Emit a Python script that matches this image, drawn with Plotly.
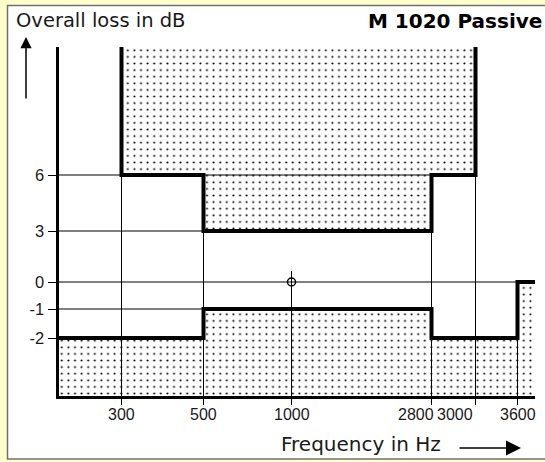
import numpy as np
import plotly.graph_objects as go

# tick labels
freq_ticks = [300, 500, 1000, 2800, 3000, 3600]   # Hz
loss_ticks = [-2, -1, 0, 3, 6]                    # dB

# upper limit of the overall loss (open above)
upper_edges = [300, 500, 2800, 3000]
upper_levels = [6, 3, 6]

# lower limit of the overall loss (runs from the y axis to the right end)
lower_edges = [500, 2800, 3600]
lower_levels = [-2, -1, -2, 0]

# reference point at 1000 Hz
ref_freq = 1000
ref_loss = 0

# level at which each vertical grid line meets a limit line
vgrid_top = [6, 3, 0, 3, 6, -2]
# frequency where each horizontal grid line ends (None = right end)
hgrid_end = [300, 500, None, 500, 3000]

# ---------------------------------------------------------------- layout
W, H = 545, 462
AX_L, AX_R, AX_T, AX_B = 58.5, 535, 47, 396   # plot area in pixels
# the chart is schematic: ticks are not evenly spaced, so each tick gets a column/row
x_slots = [63, 145, 233, 373, 417, 459]
y_slots = [58, 87, 114, 165, 221]
X_MAX = AX_R - AX_L
Y_MAX = AX_B - AX_T

FONT = "Liberation Sans, Arial, sans-serif"
TFONT = "DejaVu Sans, Verdana, sans-serif"
INK = "#1a1a1a"


def fx(f):
    return float(np.interp(f, freq_ticks, x_slots))


def fy(db):
    return float(np.interp(db, loss_ticks, y_slots))


def px(x):
    return x / W


def py(y):
    return 1 - y / H


# upper limit path
ux = [fx(upper_edges[0])]
uy = [Y_MAX]
for i, lev in enumerate(upper_levels):
    ux += [fx(upper_edges[i]), fx(upper_edges[i + 1])]
    uy += [fy(lev), fy(lev)]
ux.append(fx(upper_edges[-1]))
uy.append(Y_MAX)

# lower limit path
edges = [0] + [fx(f) for f in lower_edges] + [X_MAX]
lx, ly = [], []
for i, lev in enumerate(lower_levels):
    lx += [edges[i], edges[i + 1]]
    ly += [fy(lev), fy(lev)]

dots = dict(shape=".", size=6.6, solidity=0.08, fgcolor="black", bgcolor="white", fillmode="replace")

fig = go.Figure()

fig.add_trace(go.Scatter(
    x=ux + [ux[0]], y=uy + [uy[0]], fill="toself", mode="none",
    fillpattern=dots, fillcolor="white", hoverinfo="skip",
))
fig.add_trace(go.Scatter(
    x=lx + [X_MAX, 0, lx[0]], y=ly + [0, 0, ly[0]], fill="toself", mode="none",
    fillpattern=dots, fillcolor="white", hoverinfo="skip",
))

# thin grid lines
gx, gy = [], []
for f, top in zip(freq_ticks, vgrid_top):
    t = fy(top) + (11 if f == ref_freq else 0)
    gx += [fx(f), fx(f), None]
    gy += [0, t, None]
for db, end in zip(loss_ticks, hgrid_end):
    gx += [0, X_MAX if end is None else fx(end), None]
    gy += [fy(db), fy(db), None]
fig.add_trace(go.Scatter(x=gx, y=gy, mode="lines", line=dict(color="black", width=1),
                         hoverinfo="skip"))

# limit lines
for xs, ys in [(ux, uy), (lx, ly)]:
    fig.add_trace(go.Scatter(x=xs, y=ys, mode="lines", line=dict(color="black", width=4),
                             hoverinfo="skip"))

fig.add_trace(go.Scatter(
    x=[fx(ref_freq)], y=[fy(ref_loss)], mode="markers",
    marker=dict(symbol="circle-open", size=8, color="black", line=dict(width=1.5)),
    hoverinfo="skip",
))

# frequency labels (2800 and 3000 sit left of their ticks in the original)
label_shift = {2800: -16, 3000: -21}
annotations = []
for f, xs in zip(freq_ticks, x_slots):
    annotations.append(dict(
        x=xs + label_shift.get(f, 0), y=py(404), xref="x", yref="paper",
        text=str(f), showarrow=False, xanchor="center", yanchor="top",
        font=dict(family=FONT, size=16, color=INK),
    ))

annotations += [
    dict(x=px(14), y=py(7), xref="paper", yref="paper", text="Overall loss in dB",
         showarrow=False, xanchor="left", yanchor="top",
         font=dict(family=TFONT, size=19.5, color=INK)),
    dict(x=px(544), y=py(7), xref="paper", yref="paper", text="<b>M 1020 Passive</b>",
         showarrow=False, xanchor="right", yanchor="top",
         font=dict(family=TFONT, size=20, color="black")),
    dict(x=px(279), y=py(430), xref="paper", yref="paper", text="Frequency in Hz",
         showarrow=False, xanchor="left", yanchor="top",
         font=dict(family=TFONT, size=20, color=INK)),
    # arrows
    dict(x=px(26), y=py(37), xref="paper", yref="paper", text="", showarrow=True,
         ax=0, ay=63, arrowhead=2, arrowsize=1.5, arrowwidth=1.5, arrowcolor="black"),
    dict(x=px(521), y=py(448), xref="paper", yref="paper", text="", showarrow=True,
         ax=-63, ay=0, arrowhead=2, arrowsize=2, arrowwidth=1.5, arrowcolor="black"),
]

fig.update_layout(
    width=W, height=H, autosize=False,
    margin=dict(l=0, r=0, t=0, b=0),
    paper_bgcolor="#ffffcc", plot_bgcolor="white",
    showlegend=False,
    annotations=annotations,
    shapes=[dict(type="rect", xref="paper", yref="paper", layer="below",
                 x0=px(7.5), x1=px(W + 5), y0=py(459), y1=py(5.5),
                 fillcolor="white", line=dict(color="#707070", width=1.5))],
    xaxis=dict(
        domain=[px(AX_L), px(AX_R)], range=[0, X_MAX],
        showline=True, linewidth=3, linecolor="black", mirror=False,
        ticks="outside", tickvals=x_slots, ticklen=6, tickwidth=1, tickcolor="black",
        showticklabels=False, showgrid=False, zeroline=False, fixedrange=True,
    ),
    yaxis=dict(
        domain=[py(AX_B), py(AX_T)], range=[0, Y_MAX],
        showline=True, linewidth=3, linecolor="black",
        ticks="outside", tickvals=y_slots, ticktext=[str(v) for v in loss_ticks],
        ticklen=8, tickwidth=1, tickcolor="black",
        tickfont=dict(family=FONT, size=16.5, color=INK),
        showgrid=False, zeroline=False, fixedrange=True,
    ),
)

fig.write_html("out.html", config={"displayModeBar": False},
               post_script="document.body.style.margin='0';")
